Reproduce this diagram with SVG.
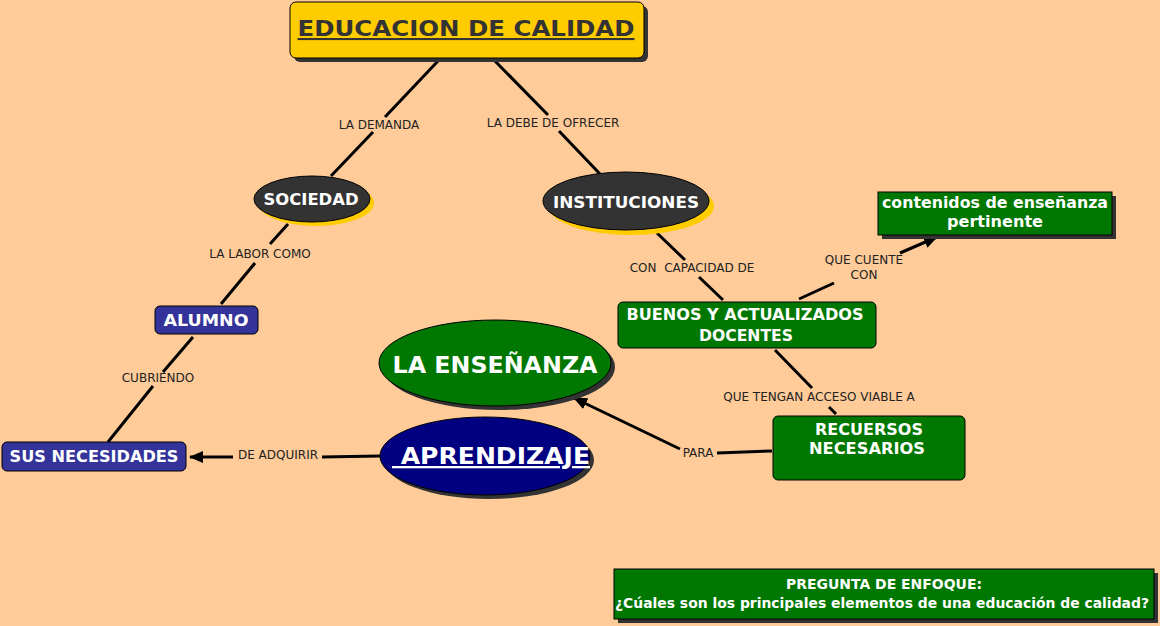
<svg xmlns="http://www.w3.org/2000/svg" width="1160" height="626" viewBox="0 0 1160 626">
<defs>
<marker id="arr2" markerWidth="14" markerHeight="12" refX="13" refY="6" orient="auto" markerUnits="userSpaceOnUse" viewBox="0 0 14 12">
<path d="M0,0 L14,6 L0,12 Z" fill="#000"/>
</marker>
</defs>
<style>
.bg{fill:#FFCC99}
.ln{stroke:#000;stroke-width:3;fill:none}
.lbl{font-family:"DejaVu Sans",Verdana,sans-serif;font-size:12px;fill:#222;text-anchor:middle}
.nt{font-family:"DejaVu Sans",Verdana,sans-serif;font-weight:bold;fill:#fff;text-anchor:middle}
.grn{fill:#007700;stroke:#000;stroke-width:1}
.blu{fill:#333399;stroke:#000;stroke-width:1}
.sh{fill:#333}
.ysh{fill:#FFCC00}
</style>
<rect class="bg" x="0" y="0" width="1160" height="626"/>

<g id="connectors">
<polyline class="ln" points="438,61 385,117"/>
<polyline class="ln" points="373,132 331,176"/>
<text class="lbl" x="379" y="129">LA DEMANDA</text>

<polyline class="ln" points="495,61 548,115"/>
<polyline class="ln" points="559,131 600,174"/>
<text class="lbl" x="553" y="127">LA DEBE DE OFRECER</text>

<polyline class="ln" points="288,224 270,244"/>
<polyline class="ln" points="255,263 221,304"/>
<text class="lbl" x="260" y="258">LA LABOR COMO</text>

<polyline class="ln" points="193,337 163,372"/>
<polyline class="ln" points="153,386 108,442"/>
<text class="lbl" x="158" y="382">CUBRIENDO</text>

<polyline class="ln" points="380,456 322,457"/>
<polyline class="ln" points="233,457 190,457" marker-end="url(#arr2)"/>
<text class="lbl" x="278" y="459">DE ADQUIRIR</text>

<polyline class="ln" points="657,233 685,260"/>
<polyline class="ln" points="699,277 723,300"/>
<text class="lbl" x="692" y="272" xml:space="preserve">CON  CAPACIDAD DE</text>

<polyline class="ln" points="799,299 834,283"/>
<polyline class="ln" points="900,253 937,237" marker-end="url(#arr2)"/>
<text class="lbl" x="864" y="264">QUE CUENTE</text>
<text class="lbl" x="864" y="279">CON</text>

<polyline class="ln" points="775,350 812,388"/>
<polyline class="ln" points="829,407 836,414"/>
<text class="lbl" x="819" y="401">QUE TENGAN ACCESO VIABLE A</text>

<polyline class="ln" points="772,451 717,453"/>
<polyline class="ln" points="680,449 574,398" marker-end="url(#arr2)"/>
<text class="lbl" x="698" y="457">PARA</text>
</g>

<g id="node-titulo">
<rect class="sh" x="294" y="6" width="354" height="56" rx="6"/>
<rect x="290" y="2" width="354" height="56" rx="6" fill="#FFCC00" stroke="#000" stroke-width="1"/>
<text x="466" y="36" font-family="'DejaVu Sans',Verdana,sans-serif" font-weight="bold" font-size="21" fill="#333333" text-anchor="middle" text-decoration="underline" textLength="337" lengthAdjust="spacingAndGlyphs">EDUCACION DE CALIDAD</text>
</g>

<g id="node-sociedad">
<ellipse class="ysh" cx="316" cy="203" rx="58" ry="23"/>
<ellipse cx="312" cy="199" rx="58" ry="23" fill="#333333" stroke="#000" stroke-width="1"/>
<text class="nt" x="311" y="205" font-size="15" textLength="95" lengthAdjust="spacingAndGlyphs">SOCIEDAD</text>
</g>

<g id="node-instituciones">
<ellipse class="ysh" cx="631" cy="206" rx="83" ry="29"/>
<ellipse cx="626" cy="201" rx="83" ry="29" fill="#333333" stroke="#000" stroke-width="1"/>
<text class="nt" x="626" y="208" font-size="15" textLength="146" lengthAdjust="spacingAndGlyphs">INSTITUCIONES</text>
</g>

<g id="node-contenidos">
<rect class="sh" x="882" y="196" width="234" height="43"/>
<rect class="grn" x="878" y="192" width="234" height="43"/>
<text class="nt" x="995" y="208" font-size="15" textLength="226" lengthAdjust="spacingAndGlyphs">contenidos de enseñanza</text>
<text class="nt" x="995" y="227" font-size="15" textLength="96" lengthAdjust="spacingAndGlyphs">pertinente</text>
</g>

<g id="node-docentes">
<rect class="grn" x="618" y="302" width="258" height="46" rx="5"/>
<text class="nt" x="745" y="320" font-size="15" textLength="237" lengthAdjust="spacingAndGlyphs">BUENOS Y ACTUALIZADOS</text>
<text class="nt" x="746" y="341" font-size="15" textLength="94" lengthAdjust="spacingAndGlyphs">DOCENTES</text>
</g>

<g id="node-ensenanza">
<ellipse class="sh" cx="499" cy="367" rx="116" ry="43"/>
<ellipse class="grn" cx="495" cy="363" rx="116" ry="43"/>
<text class="nt" x="495" y="373" font-size="23" textLength="205" lengthAdjust="spacingAndGlyphs">LA ENSEÑANZA</text>
</g>

<g id="node-aprendizaje">
<ellipse class="sh" cx="489" cy="460" rx="105" ry="39"/>
<ellipse cx="485" cy="456" rx="105" ry="39" fill="#000080" stroke="#000" stroke-width="1"/>
<text class="nt" x="491" y="464" font-size="23" text-decoration="underline" xml:space="preserve" textLength="198" lengthAdjust="spacingAndGlyphs"> APRENDIZAJE</text>
</g>

<g id="node-alumno">
<rect class="blu" x="155" y="306" width="103" height="28" rx="5"/>
<text class="nt" x="206" y="326" font-size="16" textLength="85" lengthAdjust="spacingAndGlyphs">ALUMNO</text>
</g>

<g id="node-necesidades">
<rect class="blu" x="2" y="442" width="184" height="29" rx="5"/>
<text class="nt" x="94" y="462" font-size="15" textLength="169" lengthAdjust="spacingAndGlyphs">SUS NECESIDADES</text>
</g>

<g id="node-recursos">
<rect class="grn" x="773" y="416" width="192" height="64" rx="5"/>
<text class="nt" x="869" y="435" font-size="15" textLength="108" lengthAdjust="spacingAndGlyphs">RECUERSOS</text>
<text class="nt" x="867" y="454" font-size="15" textLength="116" lengthAdjust="spacingAndGlyphs">NECESARIOS</text>
</g>

<g id="node-pregunta">
<rect class="sh" x="618" y="573" width="540" height="50"/>
<rect class="grn" x="614" y="569" width="540" height="50"/>
<text class="nt" x="884" y="589" font-size="14" textLength="196" lengthAdjust="spacingAndGlyphs">PREGUNTA DE ENFOQUE:</text>
<text class="nt" x="882" y="608" font-size="14" textLength="534" lengthAdjust="spacingAndGlyphs">¿Cúales son los principales elementos de una educación de calidad?</text>
</g>
</svg>
